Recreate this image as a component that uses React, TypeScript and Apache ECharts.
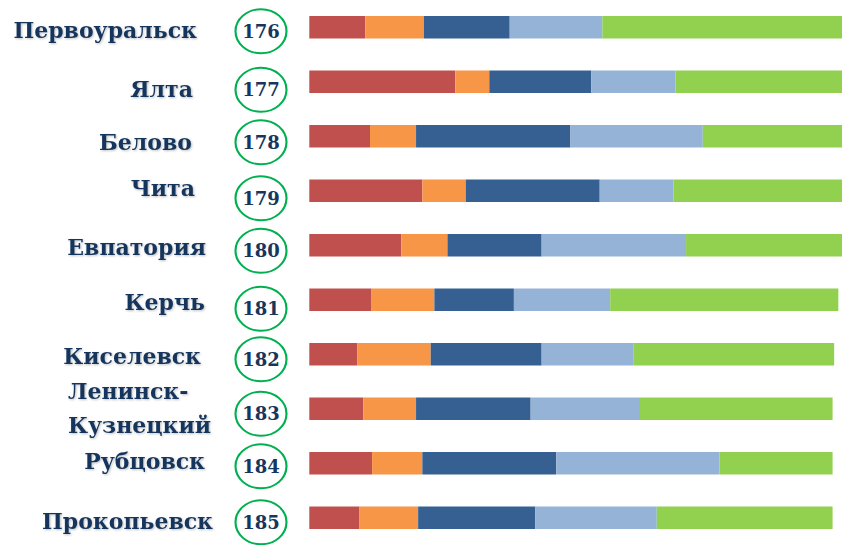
import React, { useEffect, useRef } from "react";
import * as echarts from "echarts";

const cities = [
  "Первоуральск",
  "Ялта",
  "Белово",
  "Чита",
  "Евпатория",
  "Керчь",
  "Киселевск",
  "Ленинск-\nКузнецкий",
  "Рубцовск",
  "Прокопьевск",
];
const ranks = ["176", "177", "178", "179", "180", "181", "182", "183", "184", "185"];

const seriesNames = ["s1", "s2", "s3", "s4", "s5"];
const s1 = [10.7, 27.9, 11.6, 21.6, 17.6, 11.9, 9.2, 10.3, 12.0, 9.6];
const s2 = [11.2, 6.5, 8.8, 8.3, 8.8, 12.0, 14.0, 10.1, 9.6, 11.2];
const s3 = [16.4, 19.5, 29.5, 25.6, 18.0, 15.2, 21.2, 21.9, 25.6, 22.4];
const s4 = [17.7, 16.1, 25.3, 14.1, 27.6, 18.4, 17.6, 20.9, 31.2, 23.2];
const s5 = [46.0, 33.0, 27.0, 33.0, 31.0, 43.6, 38.3, 36.8, 21.6, 33.6];

const colors = ["#C0504D", "#F79646", "#366092", "#95B3D7", "#92D050"];
// label placement tweaks (style only)
const labelPadRight = [16, 20, 21, 18, 7, 8, 12, 5, 8, 0];
const labelDy = [3, 7, 6, -2.5, 1.5, 2, 1.5, -1, -2, 3];
const circleDy = [4, 8, 6, 7.5, 5.5, 9, 5, 5, 3, 4.5];

const NAVY = "#17365D";

export default function App() {
  const ref = useRef<HTMLDivElement>(null);
  useEffect(() => {
    document.body.style.margin = "0";
    const chart = echarts.init(ref.current!, null, { renderer: "svg" });
    const rich: any = {};
    labelPadRight.forEach((p, i) => {
      const dy = labelDy[i];
      rich["l" + i] = {
        fontFamily: "DejaVu Serif",
        fontWeight: "bold",
        fontSize: 22,
        color: NAVY,
        lineHeight: 34,
        padding: [dy > 0 ? 2 * dy : 0, p, dy < 0 ? -2 * dy : 0, 0],
        align: i === 7 ? "left" : "right",
        width: i === 7 ? 140 : undefined,
        textShadowColor: "rgba(0,0,0,0.25)",
        textShadowBlur: 2,
        textShadowOffsetX: 1,
        textShadowOffsetY: 1,
      };
    });
    const data = [s1, s2, s3, s4, s5];
    chart.setOption({
      animation: false,
      grid: [
        { left: 309.3, width: 532.7, top: -2.96, height: 553.1 },
        { left: 235, width: 52, top: -2.96, height: 553.1 },
      ],
      xAxis: [
        { type: "value", gridIndex: 0, min: 0, max: 101.8, show: false },
        { type: "value", gridIndex: 1, min: 0, max: 1, show: false },
      ],
      yAxis: [
        {
          type: "category",
          gridIndex: 0,
          inverse: true,
          data: cities,
          axisLine: { show: false },
          axisTick: { show: false },
          splitLine: { show: false },
          axisLabel: {
            margin: 96.3,
            formatter: (v: string, i: number) =>
              v
                .split("\n")
                .map((line) => `{l${i}|${line}}`)
                .join("\n"),
            rich,
          },
        },
        {
          type: "category",
          gridIndex: 1,
          inverse: true,
          data: cities,
          show: false,
        },
      ],
      series: [
        ...data.map((d, k) => ({
          name: seriesNames[k],
          type: "bar",
          stack: "total",
          xAxisIndex: 0,
          yAxisIndex: 0,
          barWidth: 22.5,
          data: d,
          itemStyle: { color: colors[k] },
          clip: true,
        })),
        {
          type: "scatter",
          xAxisIndex: 1,
          yAxisIndex: 1,
          symbol: "path://M0,50 A50,50 0 1,1 100,50 A50,50 0 1,1 0,50 Z",
          symbolSize: [51, 44],
          data: ranks.map((_, i) => ({
            value: [0.5, i],
            symbolOffset: [0, circleDy[i]],
          })),
          itemStyle: {
            color: "rgba(0,0,0,0)",
            borderColor: "#00B050",
            borderWidth: 2,
            opacity: 1,
          },
          label: {
            show: true,
            position: "inside",
            formatter: (p: any) => ranks[p.dataIndex],
            fontFamily: "DejaVu Serif",
            fontWeight: "bold",
            fontSize: 18,
            color: NAVY,
            textBorderWidth: 0,
            opacity: 1,
          },
        },
      ],
    });
    return () => chart.dispose();
  }, []);
  return (
    <div
      ref={ref}
      style={{ position: "absolute", left: 0, top: 0, width: 842, height: 545 }}
    />
  );
}
